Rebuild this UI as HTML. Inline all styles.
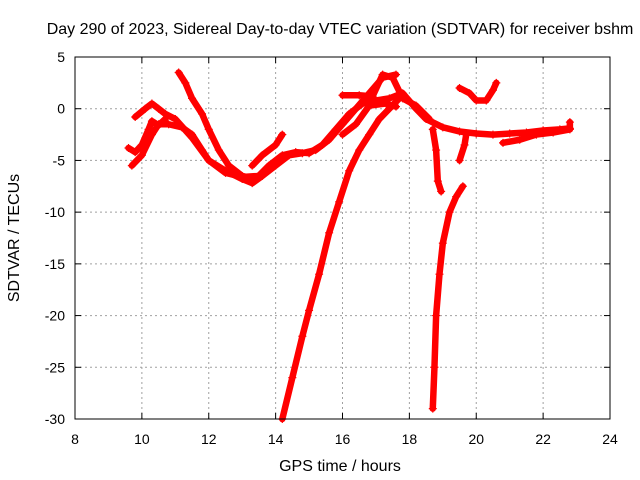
<!DOCTYPE html>
<html><head><meta charset="utf-8"><style>
body{margin:0;background:#fff;}
svg{display:block;font-family:"Liberation Sans",sans-serif;}
</style></head><body>
<svg id="chart" width="640" height="480">
<text x="340" y="34" font-size="16" text-anchor="middle">Day 290 of 2023, Sidereal Day-to-day VTEC variation (SDTVAR) for receiver bshm</text>
<text x="340" y="471" font-size="16" text-anchor="middle">GPS time / hours</text>
<text transform="translate(19,238) rotate(-90)" font-size="16" text-anchor="middle">SDTVAR / TECUs</text>
<g id="grid"></g><g id="ticks"></g><g id="series"></g>
<rect x="75" y="57" width="535" height="362" fill="none" stroke="#000" stroke-width="1"/>
</svg>
<script>
const xTicks=[8,10,12,14,16,18,20,22,24];
const yTicks=[5,0,-5,-10,-15,-20,-25,-30];
const trackA=[[9.7,-5.5],[10.0,-4.5],[10.3,-2.5],[10.5,-1.5],[10.8,-1.5],[11.2,-1.8],[11.5,-2.5],[11.8,-4],[12.0,-5],[12.5,-6],[13.0,-6.8],[13.3,-7.2],[13.6,-6.5],[14.0,-5.5],[14.4,-4.5],[14.8,-4.3],[15.2,-4],[15.6,-3],[16,-1.5],[16.4,0],[16.8,1.5],[17.2,3],[17.6,3.3]];
const trackB=[[9.6,-3.8],[9.8,-4.2],[10.0,-3.5],[10.2,-2],[10.3,-1.2],[10.5,-1.6],[10.7,-1]];
const trackC=[[9.8,-0.8],[10.1,0],[10.3,0.5],[10.5,0],[10.7,-0.5],[11.0,-1],[11.5,-2.8],[12.0,-5],[12.5,-6.2],[13.0,-6.6],[13.5,-6.5]];
const trackD=[[11.1,3.5],[11.3,2.5],[11.5,1],[11.8,-0.5],[12.0,-2],[12.3,-4],[12.6,-5.5],[13.0,-6.5],[13.4,-6.8],[13.8,-5.5],[14.2,-4.5],[14.6,-4.2],[15.0,-4.3],[15.4,-3.5],[15.8,-2],[16.2,-0.5],[16.6,0.5],[17.0,0.8],[17.4,1],[17.8,1.5],[18.2,0],[18.5,-1],[19,-1.8],[19.5,-2.2],[20,-2.4],[20.5,-2.5],[21,-2.4],[21.5,-2.3],[22,-2.1],[22.5,-2],[22.8,-1.9]];
const trackE=[[14.2,-30],[14.5,-26],[14.8,-22],[15.0,-19.5],[15.3,-16],[15.6,-12],[15.9,-9],[16.2,-6],[16.5,-4],[16.8,-2.5],[17.1,-1],[17.4,0],[17.7,1]];
const trackF=[[16.0,1.3],[16.5,1.3],[16.9,1.2],[17.2,3.3],[17.5,3],[17.8,1],[18.2,0.3],[18.6,-1]];
const trackG=[[16.0,-2.5],[16.4,-1.5],[16.8,0.3],[17.3,0.5],[17.6,0.2]];
const trackH=[[18.7,-2],[18.8,-4],[18.85,-7],[18.95,-8]];
const trackI=[[18.7,-29],[18.75,-25],[18.8,-20],[18.9,-16],[19.0,-13],[19.2,-10],[19.4,-8.5],[19.6,-7.5]];
const trackJ=[[19.5,2],[19.8,1.5],[20.0,0.8],[20.3,0.8],[20.5,1.8],[20.6,2.5]];
const trackK=[[19.5,-5],[19.65,-3.5],[19.7,-2.5]];
const trackL=[[20.8,-3.3],[21.3,-3],[21.8,-2.5],[22.3,-2.3],[22.8,-2.0],[22.8,-1.3]];
const trackM=[[13.3,-5.5],[13.6,-4.5],[14.0,-3.5],[14.2,-2.5]];
const tracks=[trackA,trackB,trackC,trackD,trackE,trackF,trackG,trackH,trackI,trackJ,trackK,trackL,trackM];
const X0=75,X1=610,Y0=57,Y1=419;
const sx=t=>X0+(t-8)/(24-8)*(X1-X0);
const sy=v=>Y0+(5-v)/(5-(-30))*(Y1-Y0);
const NS='http://www.w3.org/2000/svg';
const grid=document.getElementById('grid'),ticks=document.getElementById('ticks'),ser=document.getElementById('series');
function mk(tag,attrs,parent){const e=document.createElementNS(NS,tag);for(const k in attrs)e.setAttribute(k,attrs[k]);parent.appendChild(e);return e;}
xTicks.forEach(t=>{const x=sx(t);
 if(t>8&&t<24){const g=mk('line',{x1:x,x2:x,y1:Y0,y2:Y1,stroke:'#a0a0a0','stroke-dasharray':'2,3'},grid);
 
 }
 mk('line',{x1:x,x2:x,y1:Y1,y2:Y1-6,stroke:'#000'},ticks);mk('line',{x1:x,x2:x,y1:Y0,y2:Y0+6,stroke:'#000'},ticks);
 const l=mk('text',{x:x,y:Y1+25,'font-size':14,'text-anchor':'middle'},ticks);l.textContent=t;
 
 });
yTicks.forEach(v=>{const y=sy(v);
 if(v<5&&v>-30){const g=mk('line',{x1:X0,x2:X1,y1:y,y2:y,stroke:'#a0a0a0','stroke-dasharray':'2,3'},grid);
 
 }
 mk('line',{x1:X0,x2:X0+6,y1:y,y2:y,stroke:'#000'},ticks);mk('line',{x1:X1,x2:X1-6,y1:y,y2:y,stroke:'#000'},ticks);
 const l=mk('text',{x:X0-10,y:y+5,'font-size':14,'text-anchor':'end'},ticks);l.textContent=v;
 
 });
tracks.forEach((tr,i)=>{
 const g=mk('g',{},ser);
 
 
 mk('polyline',{points:tr.map(p=>sx(p[0])+','+sy(p[1])).join(' '),fill:'none',stroke:'#ff0000','stroke-width':6.5,'stroke-linejoin':'round','stroke-linecap':'round'},g);
 tr.forEach(p=>{const x=sx(p[0]),y=sy(p[1]);
  mk('path',{d:`M${x-4},${y}H${x+4}M${x},${y-4}V${y+4}`,stroke:'#ff0000','stroke-width':1.2},g);});
});
</script>
</body></html>
